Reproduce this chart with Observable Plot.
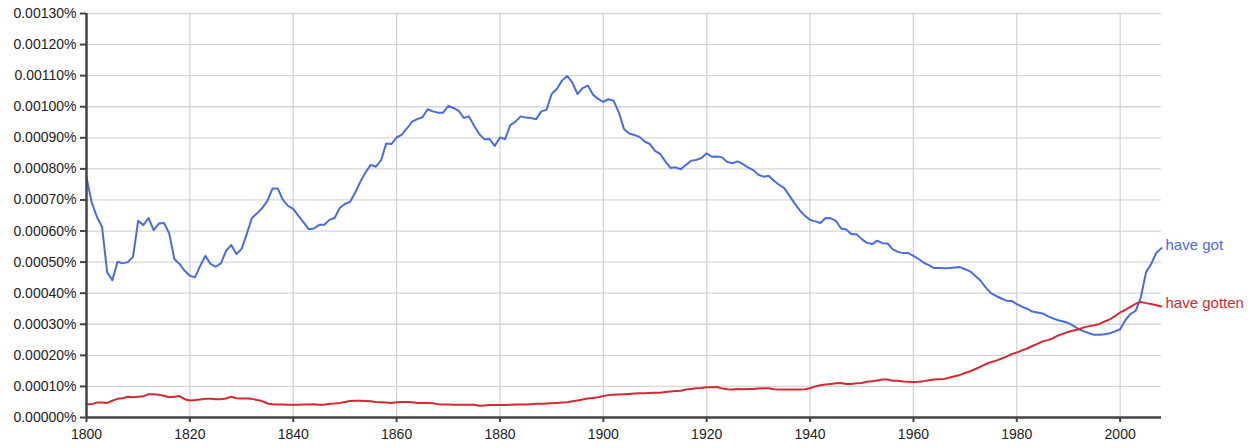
<!DOCTYPE html>
<html>
<head>
<meta charset="utf-8">
<script src="https://cdn.jsdelivr.net/npm/d3@7"></script>
<script src="https://cdn.jsdelivr.net/npm/@observablehq/plot@0.6"></script>
<style>
  html, body { margin: 0; padding: 0; background: #fff; }
  #chart svg { display: block; }
</style>
</head>
<body>
<div id="chart"></div>
<script>
// Series values in units of 0.0001 % (one gridline step), one per year from 1800 to 2008
const startYear = 1800;
const seriesNames = ["have got", "have gotten"];
const seriesColors = ["#4a6cdf", "#d12a35"];
const unit = 0.0001;

const haveGot = [
  7.73, 6.92, 6.46, 6.14, 4.67, 4.42, 5.01, 4.96, 5.00, 5.17,
  6.33, 6.19, 6.42, 6.03, 6.24, 6.26, 5.93, 5.10, 4.94, 4.72,
  4.56, 4.51, 4.88, 5.20, 4.94, 4.85, 4.96, 5.36, 5.55, 5.26,
  5.42, 5.90, 6.42, 6.57, 6.74, 6.97, 7.37, 7.37, 7.00, 6.81,
  6.71, 6.49, 6.28, 6.06, 6.08, 6.20, 6.20, 6.36, 6.42, 6.74,
  6.87, 6.94, 7.24, 7.59, 7.89, 8.13, 8.07, 8.28, 8.82, 8.80,
  9.01, 9.10, 9.30, 9.52, 9.60, 9.66, 9.92, 9.85, 9.81, 9.81,
  10.03, 9.96, 9.87, 9.64, 9.69, 9.39, 9.12, 8.95, 8.96, 8.74,
  9.01, 8.96, 9.41, 9.52, 9.69, 9.65, 9.64, 9.60, 9.85, 9.90,
  10.41, 10.57, 10.84, 10.99, 10.78, 10.41, 10.60, 10.68, 10.39, 10.25,
  10.16, 10.24, 10.19, 9.82, 9.28, 9.14, 9.09, 9.03, 8.88, 8.80,
  8.58, 8.48, 8.24, 8.03, 8.05, 7.99, 8.13, 8.26, 8.29, 8.35,
  8.50, 8.39, 8.40, 8.37, 8.22, 8.18, 8.24, 8.15, 8.05, 7.96,
  7.81, 7.75, 7.78, 7.62, 7.49, 7.38, 7.14, 6.89, 6.67, 6.49,
  6.36, 6.31, 6.26, 6.42, 6.41, 6.33, 6.08, 6.05, 5.90, 5.90,
  5.74, 5.62, 5.58, 5.69, 5.61, 5.60, 5.41, 5.33, 5.29, 5.29,
  5.20, 5.10, 4.98, 4.90, 4.81, 4.81, 4.80, 4.81, 4.83, 4.84,
  4.77, 4.70, 4.55, 4.40, 4.18, 4.00, 3.91, 3.83, 3.76, 3.75,
  3.65, 3.57, 3.50, 3.41, 3.38, 3.35, 3.26, 3.19, 3.13, 3.09,
  3.04, 2.95, 2.84, 2.77, 2.71, 2.66, 2.66, 2.68, 2.71, 2.77,
  2.84, 3.13, 3.33, 3.43, 3.86, 4.67, 4.94, 5.30, 5.45
];

const haveGotten = [
  0.43, 0.43, 0.48, 0.48, 0.47, 0.54, 0.60, 0.62, 0.67, 0.65,
  0.67, 0.68, 0.75, 0.75, 0.73, 0.70, 0.65, 0.67, 0.69, 0.59,
  0.55, 0.56, 0.58, 0.60, 0.60, 0.59, 0.59, 0.61, 0.67, 0.62,
  0.61, 0.61, 0.60, 0.56, 0.53, 0.45, 0.43, 0.42, 0.42, 0.41,
  0.41, 0.41, 0.42, 0.42, 0.43, 0.41, 0.41, 0.44, 0.45, 0.47,
  0.50, 0.53, 0.54, 0.54, 0.53, 0.52, 0.50, 0.49, 0.48, 0.47,
  0.49, 0.50, 0.50, 0.49, 0.47, 0.47, 0.47, 0.46, 0.43, 0.42,
  0.42, 0.41, 0.41, 0.41, 0.41, 0.41, 0.38, 0.39, 0.40, 0.40,
  0.40, 0.40, 0.41, 0.42, 0.42, 0.42, 0.43, 0.44, 0.44, 0.45,
  0.46, 0.47, 0.48, 0.49, 0.52, 0.55, 0.58, 0.61, 0.63, 0.65,
  0.69, 0.72, 0.73, 0.74, 0.75, 0.76, 0.77, 0.78, 0.78, 0.79,
  0.80, 0.80, 0.82, 0.84, 0.85, 0.86, 0.90, 0.92, 0.94, 0.95,
  0.97, 0.97, 0.98, 0.93, 0.91, 0.90, 0.92, 0.91, 0.92, 0.92,
  0.93, 0.94, 0.94, 0.91, 0.90, 0.90, 0.90, 0.90, 0.90, 0.91,
  0.94, 1.00, 1.04, 1.06, 1.08, 1.10, 1.11, 1.08, 1.08, 1.10,
  1.11, 1.15, 1.17, 1.19, 1.22, 1.22, 1.18, 1.18, 1.16, 1.15,
  1.14, 1.15, 1.17, 1.20, 1.22, 1.23, 1.24, 1.29, 1.33, 1.37,
  1.43, 1.49, 1.56, 1.64, 1.72, 1.78, 1.83, 1.89, 1.96, 2.04,
  2.09, 2.16, 2.22, 2.30, 2.37, 2.45, 2.49, 2.55, 2.64, 2.70,
  2.76, 2.80, 2.84, 2.90, 2.94, 2.97, 3.01, 3.09, 3.16, 3.26,
  3.38, 3.46, 3.56, 3.66, 3.72, 3.68, 3.65, 3.61, 3.57
];

const xTicks = [1800, 1820, 1840, 1860, 1880, 1900, 1920, 1940, 1960, 1980, 2000];
const yTicks = [0, 0.0001, 0.0002, 0.0003, 0.0004, 0.0005, 0.0006, 0.0007, 0.0008, 0.0009, 0.0010, 0.0011, 0.0012, 0.0013];
const xDomain = [1800, 2008];
const yDomain = [0, 0.0013];

const rows = [];
[haveGot, haveGotten].forEach((arr, s) => {
  arr.forEach((v, i) => rows.push({series: seriesNames[s], year: startYear + i, value: v * unit}));
});
const lastRows = seriesNames.map(name => rows.filter(r => r.series === name).at(-1));

const chart = Plot.plot({
  width: 1253,
  height: 448,
  marginLeft: 86,
  marginRight: 92,
  marginTop: 13,
  marginBottom: 31,
  style: {fontFamily: "'Liberation Sans', Arial, Helvetica, sans-serif", background: "#fff", color: "#222", overflow: "visible"},
  x: {domain: xDomain, label: null},
  y: {domain: yDomain, label: null},
  color: {domain: seriesNames, range: seriesColors},
  marks: [
    Plot.gridY(yTicks, {stroke: "#d6d6d6", strokeOpacity: 1, strokeWidth: 1.3}),
    Plot.gridX(xTicks, {stroke: "#d0d0d0", strokeOpacity: 1, strokeWidth: 1.2}),
    Plot.axisY(yTicks, {label: null, tickSize: 6, tickPadding: 4, fontSize: 14, stroke: "#444", strokeWidth: 2, tickFormat: d => d.toFixed(5) + "%"}),
    Plot.axisX(xTicks, {label: null, tickSize: 5, tickPadding: 7, fontSize: 14, stroke: "#444", strokeWidth: 2, tickFormat: d => String(d)}),
    Plot.line(rows, {x: "year", y: "value", z: "series", stroke: "series", strokeWidth: 2}),
    Plot.ruleX([xDomain[0]], {stroke: "#444", strokeWidth: 2.5}),
    Plot.ruleY([0], {stroke: "#444", strokeWidth: 2.5}),
    Plot.text(lastRows, {x: "year", y: "value", text: "series", fill: "series", dx: 4, dy: -3, textAnchor: "start", fontSize: 15})
  ]
});
document.getElementById("chart").appendChild(chart);
</script>
</body>
</html>
